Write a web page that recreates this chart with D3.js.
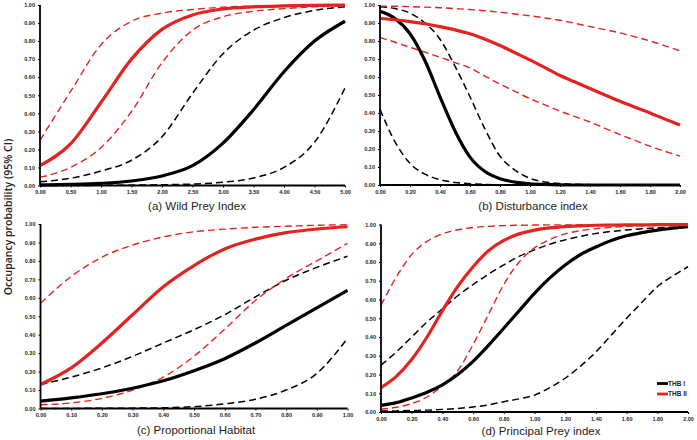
<!DOCTYPE html>
<html><head><meta charset="utf-8">
<script src="https://cdn.jsdelivr.net/npm/d3@7"></script>
<style>body{margin:0;background:#fff} svg{display:block}</style>
</head><body><svg id="c" width="697" height="440"></svg>
<script>
// ---------- data ----------
const seriesNames = ["THB I", "THB II"];

// (a) Wild Prey Index
const xA = [0,0.5,1,1.5,2,2.5,3,3.5,4,4.5,5];
const aThb1   = [0.003,0.006,0.012,0.025,0.053,0.11,0.235,0.42,0.63,0.80,0.91];
const aThb1Lo = [0.0,0.0,0.001,0.002,0.004,0.008,0.018,0.042,0.10,0.24,0.54];
const aThb1Hi = [0.02,0.04,0.08,0.14,0.27,0.51,0.73,0.86,0.93,0.97,0.99];
const aThb2   = [0.11,0.23,0.46,0.70,0.865,0.945,0.978,0.99,0.995,0.998,0.999];
const aThb2Lo = [0.045,0.10,0.21,0.41,0.68,0.86,0.935,0.965,0.98,0.99,0.995];
const aThb2Hi = [0.25,0.52,0.78,0.91,0.955,0.975,0.988,0.994,0.997,0.998,0.999];
const ticksA = [0,0.5,1,1.5,2,2.5,3,3.5,4,4.5,5];

// (b) Disturbance index
const xB = [0,0.1,0.2,0.3,0.4,0.5,0.6,0.7,0.8,0.9,1,1.1,1.2,1.3,1.4,1.5,1.6,1.7,1.8,1.9,2];
const bThb1   = [0.965,0.925,0.84,0.69,0.49,0.30,0.155,0.075,0.035,0.016,0.007,0.003,0.001,0,0,0,0,0,0,0,0];
const bThb1Lo = [0.42,0.24,0.12,0.06,0.03,0.014,0.007,0.003,0.001,0,0,0,0,0,0,0,0,0,0,0,0];
const bThb1Hi = [0.99,0.98,0.955,0.90,0.81,0.66,0.49,0.31,0.16,0.083,0.037,0.017,0.008,0.004,0.002,0.001,0,0,0,0,0];
const bThb2   = [0.925,0.918,0.908,0.896,0.88,0.862,0.84,0.81,0.775,0.735,0.695,0.652,0.608,0.572,0.536,0.50,0.465,0.432,0.40,0.366,0.333];
const bThb2Lo = [0.82,0.793,0.765,0.738,0.71,0.68,0.65,0.605,0.56,0.52,0.48,0.445,0.41,0.38,0.35,0.315,0.28,0.248,0.215,0.187,0.16];
const bThb2Hi = [0.994,0.993,0.991,0.988,0.985,0.98,0.975,0.968,0.96,0.95,0.94,0.928,0.915,0.898,0.88,0.863,0.845,0.823,0.80,0.773,0.745];
const ticksB = [0,0.2,0.4,0.6,0.8,1,1.2,1.4,1.6,1.8,2];

// (c) Proportional Habitat
const xC = [0,0.1,0.2,0.3,0.4,0.5,0.6,0.7,0.8,0.9,1];
const cThb1   = [0.04,0.058,0.08,0.11,0.15,0.205,0.27,0.355,0.45,0.545,0.64];
const cThb1Lo = [0,0.0005,0.001,0.002,0.004,0.01,0.025,0.05,0.10,0.19,0.38];
const cThb1Hi = [0.13,0.17,0.22,0.283,0.355,0.427,0.508,0.605,0.695,0.765,0.825];
const cThb2   = [0.13,0.22,0.355,0.508,0.66,0.775,0.865,0.918,0.953,0.973,0.985];
const cThb2Lo = [0.02,0.03,0.055,0.10,0.17,0.283,0.43,0.585,0.705,0.80,0.895];
const cThb2Hi = [0.57,0.715,0.82,0.886,0.93,0.958,0.972,0.982,0.988,0.993,0.996];
const ticksC = [0,0.1,0.2,0.3,0.4,0.5,0.6,0.7,0.8,0.9,1];

// (d) Principal Prey index
const xD = [0,0.1,0.2,0.3,0.4,0.5,0.6,0.7,0.8,0.9,1,1.1,1.2,1.3,1.4,1.5,1.6,1.7,1.8,1.9,2];
const dThb1   = [0.035,0.05,0.075,0.105,0.145,0.2,0.27,0.355,0.447,0.54,0.633,0.715,0.784,0.84,0.88,0.915,0.94,0.957,0.97,0.98,0.988];
const dThb1Lo = [0.005,0.006,0.008,0.01,0.014,0.019,0.027,0.038,0.055,0.07,0.09,0.13,0.18,0.245,0.32,0.41,0.50,0.585,0.668,0.725,0.775];
const dThb1Hi = [0.25,0.32,0.40,0.48,0.55,0.62,0.68,0.735,0.785,0.83,0.865,0.895,0.918,0.937,0.952,0.963,0.971,0.977,0.982,0.986,0.99];
const dThb2   = [0.13,0.19,0.28,0.40,0.54,0.67,0.775,0.86,0.915,0.95,0.97,0.982,0.989,0.993,0.996,0.997,0.998,0.998,0.999,0.999,0.999];
const dThb2Lo = [0.015,0.025,0.045,0.08,0.14,0.22,0.36,0.52,0.68,0.80,0.875,0.92,0.95,0.967,0.978,0.985,0.99,0.993,0.995,0.996,0.997];
const dThb2Hi = [0.57,0.72,0.84,0.91,0.95,0.972,0.984,0.99,0.994,0.996,0.997,0.998,0.998,0.998,0.999,0.999,0.999,0.999,0.999,0.999,0.999];
const ticksD = [0,0.2,0.4,0.6,0.8,1,1.2,1.4,1.6,1.8,2];

const yTicks = [0,0.1,0.2,0.3,0.4,0.5,0.6,0.7,0.8,0.9,1];

// ---------- drawing ----------
const RED = "#e3231f", BLACK = "#000";
const svg = d3.select("#c");

const panels = [
  {title:"(a) Wild Prey Index", x:xA, dom:[0,5], ticks:ticksA, box:[40,345,5,185.5], tx:197, ty:209.5,
   s:[aThb1,aThb1Lo,aThb1Hi,aThb2,aThb2Lo,aThb2Hi]},
  {title:"(b) Disturbance index", x:xB, dom:[0,2], ticks:ticksB, box:[380,680,5,185], tx:533, ty:209.5,
   s:[bThb1,bThb1Lo,bThb1Hi,bThb2,bThb2Lo,bThb2Hi]},
  {title:"(c) Proportional Habitat", x:xC, dom:[0,1], ticks:ticksC, box:[40.5,347.5,224,408.5], tx:196, ty:434,
   s:[cThb1,cThb1Lo,cThb1Hi,cThb2,cThb2Lo,cThb2Hi]},
  {title:"(d) Principal Prey index", x:xD, dom:[0,2], ticks:ticksD, box:[381,688,224.5,412], tx:541, ty:435,
   s:[dThb1,dThb1Lo,dThb1Hi,dThb2,dThb2Lo,dThb2Hi]}
];

panels.forEach(p => {
  const [l,r,t,b] = p.box;
  const x = d3.scaleLinear().domain(p.dom).range([l,r]);
  const y = d3.scaleLinear().domain([0,1]).range([b,t]);
  const g = svg.append("g");

  const line = vals => d3.line().curve(d3.curveMonotoneX)
      .x((d,i)=>x(p.x[i])).y(d=>y(d))(vals);

  const styles = [
    {i:1, c:BLACK, w:1.5, dash:"7,4"},
    {i:2, c:BLACK, w:1.5, dash:"7,4"},
    {i:4, c:RED, w:1.4, dash:"7,4"},
    {i:5, c:RED, w:1.4, dash:"7,4"},
    {i:0, c:BLACK, w:3.2, dash:null},
    {i:3, c:RED, w:3.2, dash:null}
  ];
  styles.forEach(st => {
    g.append("path").attr("d", line(p.s[st.i])).attr("fill","none")
     .attr("stroke", st.c).attr("stroke-width", st.w)
     .attr("stroke-dasharray", st.dash);
  });

  const xa = g.append("g").attr("transform",`translate(0,${b})`)
    .call(d3.axisBottom(x).tickValues(p.ticks).tickFormat(d3.format(".2f")).tickSize(2).tickPadding(3));
  const ya = g.append("g").attr("transform",`translate(${l},0)`)
    .call(d3.axisLeft(y).tickValues(yTicks).tickFormat(d3.format(".2f")).tickSize(2).tickPadding(3));
  [xa,ya].forEach(a => {
    a.select(".domain").attr("stroke","#000").attr("stroke-width",1.8);
    a.selectAll(".tick line").attr("stroke","#000").attr("stroke-width",1);
    a.selectAll("text").attr("font-family","Liberation Sans, Arial, sans-serif")
      .attr("font-size",5.5).attr("font-weight","bold").attr("fill","#222");
  });
  xa.select(".domain").attr("d",`M${l},0H${r}`);
  ya.select(".domain").attr("d",`M0,${b}V${t}`);

  g.append("text").attr("x",p.tx).attr("y",p.ty).attr("text-anchor","middle")
   .attr("font-family","Liberation Sans, Arial, sans-serif").attr("font-size",11.5)
   .attr("fill","#222").text(p.title);
});

svg.append("text").attr("transform","translate(12,217) rotate(-90)")
  .attr("text-anchor","middle").attr("font-family","Open Sans, sans-serif")
  .attr("font-size",10.5).attr("font-weight",600).attr("fill","#222")
  .text("Occupancy probability (95% CI)");

// legend
const leg = svg.append("g");
[[seriesNames[0],BLACK,383.5],[seriesNames[1],RED,394]].forEach(([n,c,yy]) => {
  leg.append("line").attr("x1",657).attr("x2",668).attr("y1",yy).attr("y2",yy)
    .attr("stroke",c).attr("stroke-width",2.8);
  leg.append("text").attr("x",668).attr("y",yy+2.2).attr("font-family","Liberation Sans, Arial, sans-serif")
    .attr("font-size",6.5).attr("font-weight","bold").attr("fill","#222").text(n);
});
</script></body></html>
